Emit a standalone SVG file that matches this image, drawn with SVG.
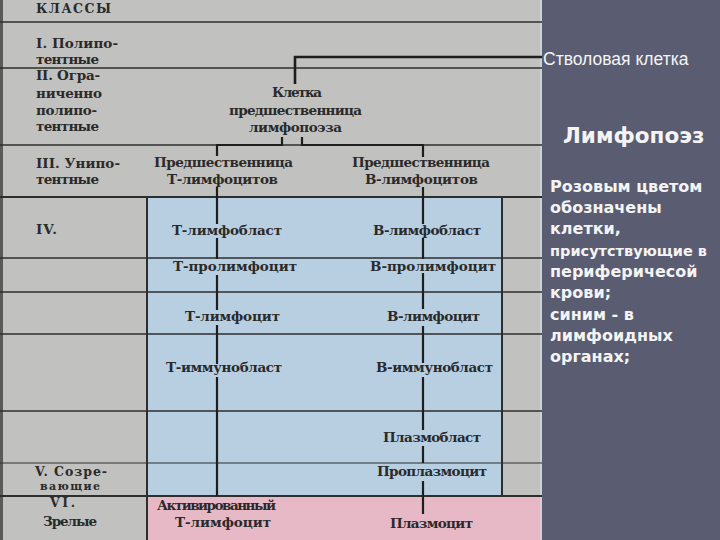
<svg xmlns="http://www.w3.org/2000/svg" width="720" height="540" viewBox="0 0 720 540">
<defs>
<style>
.s{font-family:"DejaVu Serif","Liberation Serif",serif;font-weight:bold;font-size:13.5px;fill:#2a2a2a}
.g{stroke:#2e2e2e;stroke-width:1.3}
.c{stroke:#1e1e1e;stroke-width:2.2;fill:none}
.w{font-family:"Liberation Sans",Arial,sans-serif;fill:#f4f4f4}
.p{font-family:"DejaVu Sans","Liberation Sans",sans-serif;font-weight:bold;font-size:16px;fill:#f4f4f4}
</style>
</defs>
<!-- backgrounds -->
<rect x="0" y="0" width="720" height="540" fill="#5a5d71"/>
<rect x="0" y="0" width="542" height="540" fill="#c1c1bf"/>
<rect x="0" y="0" width="3" height="540" fill="#5a5a5a"/>
<rect x="147" y="197" width="355" height="299" fill="#b8cfe2"/>
<rect x="147" y="496" width="395" height="44" fill="#e7b8c5"/>
<line x1="541" y1="0" x2="541" y2="540" stroke="#d6d6d6" stroke-width="1.5"/>
<!-- grid -->
<g id="grid">
<line class="g" x1="0" y1="22" x2="542" y2="22"/>
<line class="g" x1="0" y1="68" x2="542" y2="68"/>
<line class="g" x1="0" y1="145" x2="542" y2="145"/>
<line class="g" x1="0" y1="197" x2="542" y2="197" style="stroke-width:1.8"/>
<line class="g" x1="0" y1="258" x2="542" y2="258"/>
<line class="g" x1="0" y1="292" x2="542" y2="292"/>
<line class="g" x1="0" y1="334" x2="542" y2="334"/>
<line class="g" x1="0" y1="411" x2="542" y2="411"/>
<line class="g" x1="0" y1="463" x2="542" y2="463" style="stroke-width:1"/>
<line class="g" x1="0" y1="496" x2="542" y2="496" style="stroke-width:1.8"/>
<line class="g" x1="147" y1="197" x2="147" y2="540" style="stroke-width:2"/>
<line class="g" x1="502" y1="197" x2="502" y2="496" style="stroke-width:2"/>
</g>
<!-- class column -->
<g id="classes">
<text class="s" x="36" y="13" textLength="75" style="font-size:12.5px">КЛАССЫ</text>
<text class="s" x="36" y="48" textLength="82">I. Полипо-</text>
<text class="s" x="36" y="64" textLength="63">тентные</text>
<text class="s" x="36" y="80" textLength="64">II. Огра-</text>
<text class="s" x="36" y="98" textLength="66">ниченно</text>
<text class="s" x="36" y="115" textLength="61">полипо-</text>
<text class="s" x="36" y="131" textLength="63">тентные</text>
<text class="s" x="36" y="168" textLength="84">III. Унипо-</text>
<text class="s" x="36" y="184" textLength="63">тентные</text>
<text class="s" x="36" y="234" textLength="21">IV.</text>
<text class="s" x="35" y="476" textLength="72" style="font-size:12.5px">V. Созре-</text>
<text class="s" x="40" y="490" textLength="60" style="font-size:11px">вающие</text>
<text class="s" x="50" y="507" textLength="25" style="font-size:12.5px">VI.</text>
<text class="s" x="43" y="526" textLength="54">Зрелые</text>
</g>
<!-- connectors -->
<g id="connectors">
<polyline class="c" points="295,84 295,57 542,57" style="stroke-width:2.6"/>
<line class="c" x1="282" y1="137" x2="282" y2="146"/>
<line class="c" x1="302" y1="137" x2="302" y2="146"/>
<polyline class="c" points="282,145 217,145 217,156"/>
<polyline class="c" points="302,145 423,145 423,157"/>
<g class="c">
<line x1="217" y1="187" x2="217" y2="224"/>
<line x1="217" y1="238" x2="217" y2="259"/>
<line x1="217" y1="275" x2="217" y2="310"/>
<line x1="217" y1="325" x2="217" y2="364"/>
<line x1="217" y1="377" x2="217" y2="496"/>
<line x1="423" y1="187" x2="423" y2="224"/>
<line x1="423" y1="238" x2="423" y2="259"/>
<line x1="423" y1="273" x2="423" y2="309"/>
<line x1="423" y1="326" x2="423" y2="363"/>
<line x1="423" y1="377" x2="423" y2="430"/>
<line x1="423" y1="446" x2="423" y2="463"/>
<line x1="423" y1="481" x2="423" y2="514"/>
</g>
</g>
<!-- nodes -->
<g id="n-lymph-progenitor">
<text class="s" x="272" y="97" textLength="50">Клетка</text>
<text class="s" x="229" y="115" textLength="133">предшественница</text>
<text class="s" x="249" y="132" textLength="93">лимфопоэза</text>
</g>
<g id="n-t-progenitor">
<text class="s" x="154" y="167" textLength="139">Предшественница</text>
<text class="s" x="167" y="184" textLength="111">Т-лимфоцитов</text>
</g>
<g id="n-b-progenitor">
<text class="s" x="352" y="167" textLength="138">Предшественница</text>
<text class="s" x="365" y="184" textLength="113">В-лимфоцитов</text>
</g>
<g id="n-t-lymphoblast"><text class="s" x="172" y="235" textLength="110">Т-лимфобласт</text></g>
<g id="n-b-lymphoblast"><text class="s" x="373" y="235" textLength="108">В-лимфобласт</text></g>
<g id="n-t-prolymphocyte"><text class="s" x="173" y="271" textLength="124">Т-пролимфоцит</text></g>
<g id="n-b-prolymphocyte"><text class="s" x="370" y="271" textLength="126">В-пролимфоцит</text></g>
<g id="n-t-lymphocyte"><text class="s" x="185" y="321" textLength="95">Т-лимфоцит</text></g>
<g id="n-b-lymphocyte"><text class="s" x="387" y="321" textLength="93">В-лимфоцит</text></g>
<g id="n-t-immunoblast"><text class="s" x="166" y="372" textLength="116">Т-иммунобласт</text></g>
<g id="n-b-immunoblast"><text class="s" x="376" y="372" textLength="117">В-иммунобласт</text></g>
<g id="n-plasmoblast"><text class="s" x="383" y="442" textLength="98">Плазмобласт</text></g>
<g id="n-proplasmocyte"><text class="s" x="377" y="476" textLength="110">Проплазмоцит</text></g>
<g id="n-activated-t">
<text class="s" x="157" y="510" textLength="119">Активированный</text>
<text class="s" x="175" y="527" textLength="96">Т-лимфоцит</text>
</g>
<g id="n-plasmocyte"><text class="s" x="390" y="528" textLength="83">Плазмоцит</text></g>
<!-- right panel -->
<g id="n-stem-cell"><text class="w" x="543" y="65" style="font-size:17.5px">Стволовая клетка</text></g>
<g id="title"><text x="563" y="143" style="font-family:'DejaVu Sans','Liberation Sans',sans-serif;font-weight:bold;font-size:21.5px;fill:#f4f4f4">Лимфопоэз</text></g>
<g id="note">
<text class="p" x="550" y="192">Розовым цветом</text>
<text class="p" x="550" y="213">обозначены</text>
<text class="p" x="550" y="234">клетки,</text>
<text class="p" x="550" y="256" style="font-size:14.5px">присутствующие в</text>
<text class="p" x="550" y="277">периферичесой</text>
<text class="p" x="550" y="298">крови;</text>
<text class="p" x="550" y="320">синим - в</text>
<text class="p" x="550" y="341">лимфоидных</text>
<text class="p" x="550" y="362">органах;</text>
</g>
</svg>
